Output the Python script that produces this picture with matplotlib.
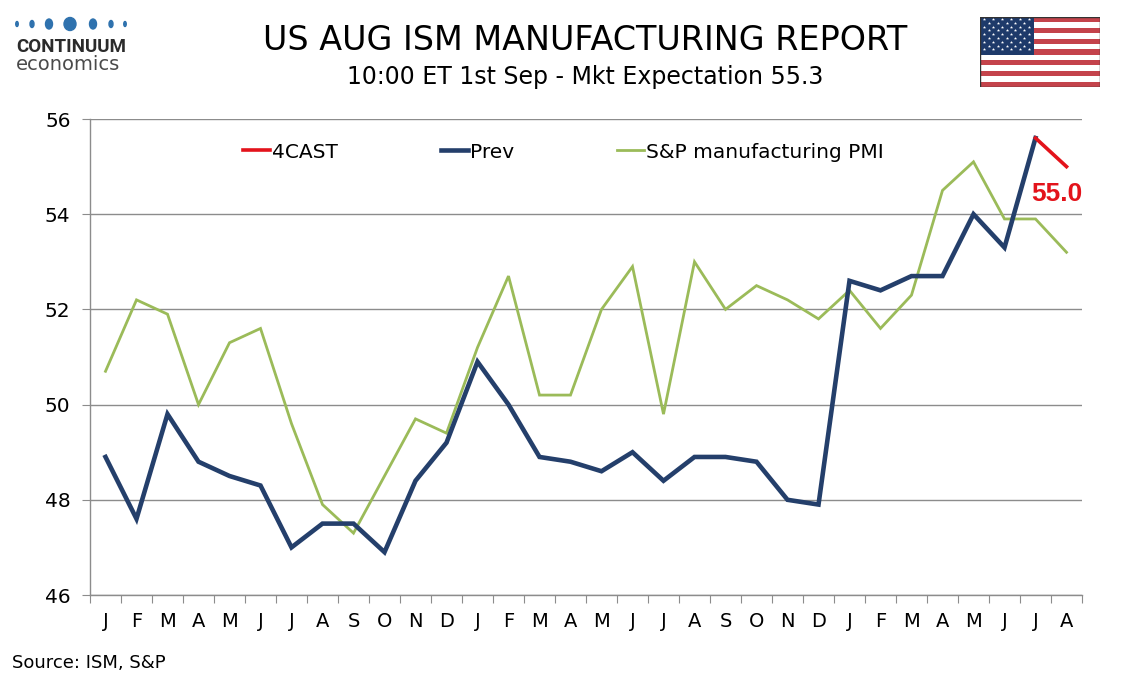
import matplotlib
matplotlib.use("Agg")
import matplotlib.pyplot as plt
from matplotlib.patches import Ellipse, Rectangle
from matplotlib.lines import Line2D
import numpy as np

# ---- data ----
months = ["J", "F", "M", "A", "M", "J", "J", "A", "S", "O", "N", "D",
          "J", "F", "M", "A", "M", "J", "J", "A", "S", "O", "N", "D",
          "J", "F", "M", "A", "M", "J", "J", "A"]

ism_prev = [48.9, 47.6, 49.8, 48.8, 48.5, 48.3, 47.0, 47.5, 47.5, 46.9, 48.4, 49.2,
            50.9, 50.0, 48.9, 48.8, 48.6, 49.0, 48.4, 48.9, 48.9, 48.8, 48.0, 47.9,
            52.6, 52.4, 52.7, 52.7, 54.0, 53.3, 55.6]

sp_pmi = [50.7, 52.2, 51.9, 50.0, 51.3, 51.6, 49.6, 47.9, 47.3, 48.5, 49.7, 49.4,
          51.2, 52.7, 50.2, 50.2, 52.0, 52.9, 49.8, 53.0, 52.0, 52.5, 52.2, 51.8,
          52.4, 51.6, 52.3, 54.5, 55.1, 53.9, 53.9, 53.2]

forecast = 55.0
y_ticks = [46, 48, 50, 52, 54, 56]

navy = "#243F6B"
green = "#9BBB59"
red = "#E3131B"
grid_col = "#8C8C8C"

W, H = 1134, 680
fig = plt.figure(figsize=(W / 100, H / 100), dpi=100)
fig.patch.set_facecolor("white")

# main plot area (pixel box 90..1082 x 119..595)
ax = fig.add_axes([90 / W, 1 - 595 / H, 992 / W, 476 / H])

x_prev = np.arange(len(ism_prev))
x_pmi = np.arange(len(sp_pmi))
x_fc = [len(ism_prev) - 1, len(ism_prev)]

ax.plot(x_pmi, sp_pmi, color=green, lw=2.0, solid_joinstyle="miter")
ax.plot(x_prev, ism_prev, color=navy, lw=3.3, solid_joinstyle="miter")
ax.plot(x_fc, [ism_prev[-1], forecast], color=red, lw=2.6)

ax.annotate("%.1f" % forecast, xy=(x_fc[1], forecast), xytext=(-10, -27),
            textcoords="offset pixels", ha="center", va="center",
            color=red, fontsize=19, fontweight="bold", family="Liberation Sans")

ax.set_xlim(-0.5, len(months) - 0.5)
ax.set_ylim(46, 56)
ax.set_yticks(y_ticks)
ax.set_yticklabels([str(v) for v in y_ticks], fontsize=14.5)
ax.yaxis.grid(True, color=grid_col, lw=1)
ax.set_axisbelow(True)

# tick marks between the months, labels centred on them
ax.set_xticks(np.arange(-0.5, len(months), 1.0))
ax.set_xticklabels([])
ax.set_xticks(np.arange(len(months)), minor=True)
ax.set_xticklabels(months, minor=True, fontsize=14)
ax.tick_params(axis="x", which="major", length=6, color=grid_col, direction="out")
ax.tick_params(axis="x", which="minor", length=0, pad=12)
ax.tick_params(axis="y", length=6, color=grid_col, pad=8)

for side in ["top", "right"]:
    ax.spines[side].set_visible(False)
for side in ["left", "bottom"]:
    ax.spines[side].set_color(grid_col)
    ax.spines[side].set_linewidth(1)

handles = [Line2D([], [], color=red, lw=2.6),
           Line2D([], [], color=navy, lw=3.3),
           Line2D([], [], color=green, lw=2.0)]
fig.legend(handles, ["4CAST", "Prev", "S&P manufacturing PMI"], ncol=3,
           loc="center left", bbox_to_anchor=(243 / W, 1 - 152 / H),
           frameon=False, fontsize=14.5, handlelength=1.35, handletextpad=0.1,
           columnspacing=5.1, borderpad=0, borderaxespad=0)

# titles
fig.text(585 / W, 1 - 40 / H, "US AUG ISM MANUFACTURING REPORT",
         ha="center", va="center", fontsize=24)
fig.text(585 / W, 1 - 77 / H, "10:00 ET 1st Sep - Mkt Expectation 55.3",
         ha="center", va="center", fontsize=17)
fig.text(12 / W, 1 - 663 / H, "Source: ISM, S&P", ha="left", va="center",
         fontsize=13)

# logo
lax = fig.add_axes([0, 1 - 110 / H, 174 / W, 110 / H])
lax.set_xlim(0, 174)
lax.set_ylim(110, 0)
lax.axis("off")
dot_x = [17, 32, 49, 70, 93, 111, 125]
dot_w = [2.5, 4, 7, 12, 7, 4, 2.5]
dot_h = [5, 7, 10, 13, 10, 7, 5]
for dx, dw, dh in zip(dot_x, dot_w, dot_h):
    lax.add_patch(Ellipse((dx, 24), dw, dh, color="#2F72AE"))
lax.text(16, 47, "CONTINUUM", ha="left", va="center", fontsize=13.5,
         fontweight="bold", family="Roboto", color="#2B2B2B")
lax.text(16, 65, "economics", ha="left", va="center", fontsize=14,
         family="DejaVu Sans", color="#4A4A4A")

# flag
fax = fig.add_axes([980 / W, 1 - 87 / H, 120 / W, 70 / H])
fax.set_xlim(0, 19)
fax.set_ylim(0, 13)
fax.axis("off")
for s in range(13):
    fax.add_patch(Rectangle((0, 12 - s), 19, 1,
                            color="#C4434B" if s % 2 == 0 else "white", lw=0))
fax.add_patch(Rectangle((0, 6), 8.5, 7, color="#1E3A6A", lw=0))
sx, sy = [], []
for r in range(9):
    n = 6 if r % 2 == 0 else 5
    off = 0.7 if r % 2 == 0 else 1.4
    for c in range(n):
        sx.append(off + c * 1.4)
        sy.append(12.6 - r * 0.7)
fax.scatter(sx, sy, marker="*", s=6, color="white", lw=0)
fax.add_patch(Rectangle((0, 0), 19, 13, fill=False, ec="#333333", lw=1))

fig.savefig("out.png", dpi=100)
